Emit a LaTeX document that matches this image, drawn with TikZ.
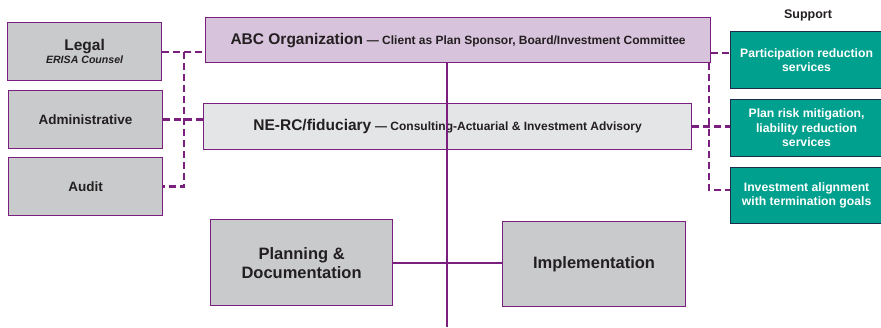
\documentclass[tikz,border=0pt]{standalone}
\usepackage{fontspec}
\setmainfont{Liberation Sans}
\usetikzlibrary{positioning}
\definecolor{plum}{HTML}{7A1F7D}
\definecolor{boxgray}{HTML}{C9CACC}
\definecolor{lilac}{HTML}{D7C3DC}
\definecolor{paper}{HTML}{E4E5E7}
\definecolor{supportteal}{HTML}{00A08F}
\definecolor{navy}{HTML}{1D2B4F}
\definecolor{ink}{HTML}{231F20}
\tikzset{
  gray box/.style 2 args={
    fill=boxgray,
    draw=plum,
    line width=1.2pt,
    minimum width={#1},
    minimum height={#2},
    anchor=north west,
    align=center,
    inner sep=0pt,
    text=ink,
    font=\bfseries\fontsize{13.5}{15}\selectfont,
  },
  support box/.style={
    gray box={152pt}{#1},
    fill=supportteal,
    draw=navy,
    text=white,
    font=\bfseries\fontsize{12.2}{14.5}\selectfont,
  },
  trunk/.style={
    draw=plum,
    line width=2pt,
  },
  link/.style={
    draw=plum,
    line width=2.5pt,
    dash pattern=on 7pt off 4pt,
  }
}

\begin{document}
\begin{tikzpicture}[x=1pt,y=-1pt]
        \useasboundingbox (0,0) rectangle (881,327);

        % side boxes
        \node [gray box={154pt}{58pt}] (legal) at (7,22) {\fontsize{15.5}{17}\selectfont Legal\\[-2pt]{\itshape\fontsize{10.6}{12}\selectfont ERISA Counsel}};
        \node [gray box={154pt}{58pt}] (admin) at (8,90) {Administrative};
        \node [gray box={154pt}{58pt}] (audit) at (8,157) {Audit};

        % main boxes
        \node [gray box={505pt}{45pt}, fill=lilac] (abc) at (205,17) {{\fontsize{15.5}{18}\selectfont ABC Organization} \fontsize{12}{14}\selectfont — Client as Plan Sponsor, Board/Investment Committee};
        \node [gray box={488pt}{46pt}, fill=paper] (nerc) at (203,103) {{\fontsize{15.5}{18}\selectfont NE-RC/fiduciary} \fontsize{12}{14}\selectfont — Consulting-Actuarial \& Investment Advisory};
        \node [gray box={182pt}{86pt}, font=\bfseries\fontsize{16.5}{19}\selectfont] (plan) at (210,219) {Planning \&\\Documentation};
        \node [gray box={183pt}{85pt}, font=\bfseries\fontsize{16.5}{19}\selectfont] (impl) at (502,221) {Implementation};

        % support
        \node [support box=57pt] (sup1) at (730,31) {Participation reduction\\services};
        \node [support box=57pt] (sup2) at (730,99) {Plan risk mitigation,\\liability reduction\\services};
        \node [support box=56pt] (sup3) at (730,167) {Investment alignment\\with termination goals};
        \node [font=\bfseries\fontsize{12.5}{14}\selectfont, text=ink] (support) at (808,15) {Support};

        % connectors
        \coordinate (spine) at (447,327);
        \coordinate (lbus) at (184,52);
        \coordinate (rbus) at (709,53);
        \coordinate (rbot) at (709,190);

        \draw [trunk] (abc.south -| spine) -- (spine);
        \draw [trunk] (plan.east) -- (plan.east -| impl.west);

        \draw [link] (legal.east |- lbus) -- (lbus -| abc.west);
        \draw [link] (lbus) -- (lbus |- audit.east) -- (audit.east);
        \draw [link] (admin.east) -- (admin.east -| nerc.west);

        \draw [link] (abc.east |- rbus) -- (rbus -| sup1.west);
        \draw [link] (abc.south -| rbus) -- (rbot) -- (rbot -| sup3.west);
        \draw [link] (nerc.east) -- (nerc.east -| sup2.west);
      \end{tikzpicture}
\end{document}
